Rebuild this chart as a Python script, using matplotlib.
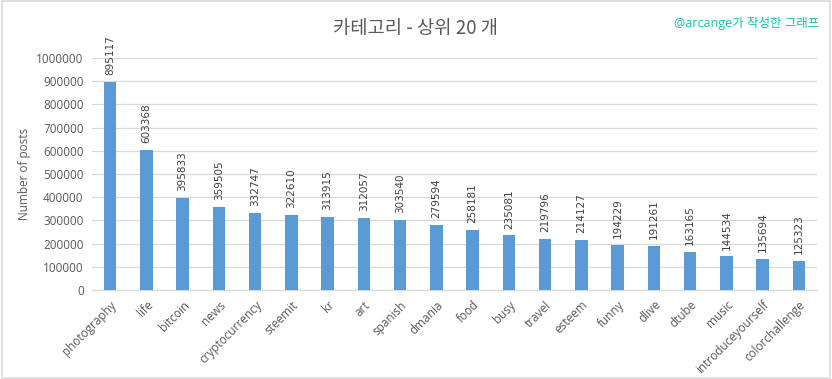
import matplotlib

matplotlib.use("Agg")

import matplotlib.pyplot as plt
import numpy as np

plt.rcParams["font.family"] = ["Open Sans", "Noto Sans CJK KR", "DejaVu Sans"]

CATEGORIES = [
    "photography", "life", "bitcoin", "news", "cryptocurrency", "steemit",
    "kr", "art", "spanish", "dmania", "food", "busy", "travel", "esteem",
    "funny", "dlive", "dtube", "music", "introduceyourself", "colorchallenge",
]
POSTS = [
    895117, 603368, 395833, 359505, 332747, 322610, 313915, 312057, 303540,
    279594, 258181, 235081, 219796, 214127, 194229, 191261, 163165, 144534,
    135694, 125323,
]
Y_TICKS = list(range(0, 1000001, 100000))

TEXT_GRAY = "#595959"
BAR_BLUE = "#5b9bd5"

fig = plt.figure(figsize=(8.32, 3.79), dpi=100)
ax = fig.add_axes([0.1106, 0.2348, 0.8714, 0.6122])

x = np.arange(len(CATEGORIES))
ax.bar(x, POSTS, width=0.34, color=BAR_BLUE, zorder=3)

# value labels, rotated, a bit above each bar
for xi, val in zip(x, POSTS):
    ax.text(xi, val + 30000, str(val), rotation=90, ha="center", va="bottom",
            fontsize=7.5, color="#404040", zorder=4, family=["DejaVu Sans"])

ax.set_xlim(-0.5, len(CATEGORIES) - 0.5)
ax.set_ylim(0, 1000000)
ax.set_yticks(Y_TICKS)
ax.set_yticklabels([str(t) for t in Y_TICKS], fontsize=8.5, color=TEXT_GRAY)
ax.set_xticks(x)
ax.set_xticklabels(CATEGORIES, rotation=45, ha="right", rotation_mode="anchor",
                   fontsize=8.5, color=TEXT_GRAY)
ax.tick_params(length=0, pad=6)
ax.grid(True, axis="y", color="#d9d9d9", linewidth=0.9, zorder=0)
for side in ["top", "right", "left"]:
    ax.spines[side].set_visible(False)
ax.spines["bottom"].set_color("#d9d9d9")
ax.spines["bottom"].set_linewidth(0.9)

ax.set_ylabel("Number of posts", fontsize=8.5, color=TEXT_GRAY, labelpad=4)

fig.text(0.499, 0.925, "카테고리 - 상위 20 개", ha="center", va="center",
         fontsize=13.5, color="#595959", family=["Noto Sans CJK KR", "DejaVu Sans"])
fig.text(0.985, 0.937, "@arcange가 작성한 그래프", ha="right", va="center",
         fontsize=9, color="#12c4a4", family=["Open Sans", "Noto Sans CJK KR"])

border = plt.Rectangle((0.002, 0.003), 0.996, 0.994, transform=fig.transFigure,
                       fill=False, edgecolor="#d9d9d9", linewidth=1.2)
fig.patches.append(border)

fig.savefig("out.png", dpi=100)
